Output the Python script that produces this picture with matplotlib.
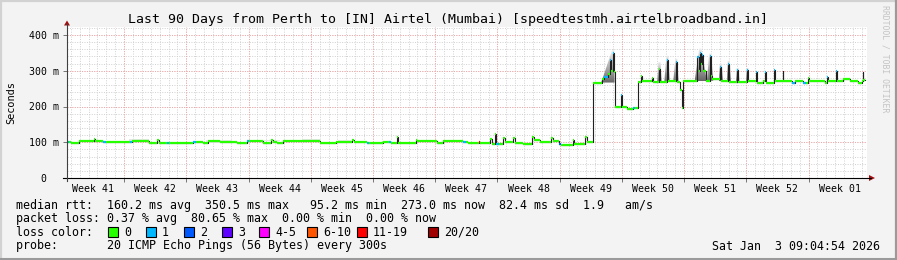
import numpy as np
import matplotlib
matplotlib.use('Agg')
import matplotlib.pyplot as plt
from matplotlib.colors import LinearSegmentedColormap
from matplotlib.patches import Polygon

plt.rcParams['font.family'] = ['DejaVu Sans Mono']

##########
## Data ##
##########
title = 'Last 90 Days from Perth to [IN] Airtel (Mumbai) [speedtestmh.airtelbroadband.in]'
week_labels = ['Week 41', 'Week 42', 'Week 43', 'Week 44', 'Week 45', 'Week 46', 'Week 47',
               'Week 48', 'Week 49', 'Week 50', 'Week 51', 'Week 52', 'Week 01']
first_week_line = 6.43   # days after the start of the graph
span_days = 90
y_ticks = [0, 100, 200, 300, 400]
y_tick_labels = ['0  ', '100 m', '200 m', '300 m', '400 m']

# median rtt (ms) as steps: value holds from med_t[i] to med_t[i+1]
med_t = [0.0, 0.2, 0.5, 1.3, 3.0, 3.2, 4.1, 4.4, 4.8, 7.1,
         7.3, 9.2, 10.1, 10.3, 11.2, 11.5, 12.7, 14.2, 14.5, 15.3,
         15.9, 17.2, 19.1, 20.2, 20.5, 22.1, 23.0, 23.2, 23.6, 24.3,
         26.6, 28.5, 30.3, 32.1, 32.3, 33.7, 34.0, 35.6, 36.2, 36.5,
         37.1, 37.2, 39.3, 39.4, 41.6, 42.3, 44.6, 44.9, 45.1, 46.3,
         46.5, 47.6, 47.8, 48.2, 48.3, 48.6, 49.1, 49.3, 50.2, 50.4,
         51.3, 52.3, 52.5, 53.2, 54.5, 54.7, 55.3, 55.6, 56.9, 57.0,
         58.3, 58.5, 59.2, 60.2, 60.4, 60.9, 61.1, 61.2, 61.4, 61.5,
         61.65, 62.3, 62.4, 63.0, 63.7, 63.9, 64.2, 64.6, 64.7, 65.8,
         65.9, 66.6, 66.7, 67.5, 67.6, 68.5, 68.6, 69.0, 69.2, 69.3,
         70.9, 71.1, 71.2, 71.3, 71.4, 71.5, 71.9, 72.3, 72.4, 72.6,
         73.5, 73.6, 74.4, 74.5, 75.4, 75.5, 76.5, 76.6, 77.5, 77.6,
         78.3, 78.5, 78.6, 79.5, 79.6, 80.5, 80.6, 81.6, 81.9, 82.8,
         83.1, 83.4, 83.5, 84.3, 85.3, 85.5, 85.6, 86.5, 86.6, 87.3,
         88.1, 89.0, 89.4, 89.5, 89.6]
med_v = [101, 101, 99, 104, 108, 103, 100, 100, 102, 101,
         104, 99, 106, 98, 99, 99, 98, 101, 101, 98,
         103, 102, 99, 104, 104, 99, 107, 100, 97, 103,
         104, 99, 102, 107, 101, 98, 98, 101, 100, 98,
         114, 99, 107, 103, 99, 104, 100, 100, 98, 101,
         97, 108, 96, 122, 95, 95, 111, 102, 111, 99,
         96, 116, 106, 102, 111, 104, 96, 93, 106, 95,
         116, 101, 267, 276, 283, 292, 330, 300, 350, 297,
         199, 232, 198, 194, 197, 196, 269, 285, 270, 280,
         268, 305, 269, 330, 270, 325, 268, 246, 195, 270,
         338, 300, 350, 320, 343, 300, 272, 340, 285, 276,
         311, 270, 318, 268, 302, 268, 302, 271, 297, 267,
         272, 297, 267, 302, 272, 299, 270, 267, 270, 267,
         267, 280, 270, 272, 267, 283, 270, 300, 272, 276,
         270, 266, 272, 297, 273]
med_loss = [1, 0, 0, 0, 0, 0, 1, 0, 0, 1,
            0, 0, 0, 0, 1, 0, 0, 1, 0, 0,
            0, 0, 0, 1, 0, 0, 0, 0, 0, 0,
            0, 0, 0, 0, 0, 1, 0, 0, 1, 0,
            0, 0, 0, 0, 0, 0, 1, 0, 0, 16,
            0, 0, 0, 0, 1, 0, 0, 0, 0, 0,
            0, 0, 0, 0, 0, 0, 2, 0, 0, 0,
            0, 0, 0, 0, 1, 0, 1, 0, 1, 0,
            0, 1, 0, 0, 1, 0, 0, 0, 0, 0,
            0, 0, 0, 1, 0, 1, 0, 0, 0, 0,
            1, 0, 1, 0, 1, 0, 0, 1, 0, 0,
            1, 0, 1, 0, 1, 0, 1, 0, 1, 0,
            0, 1, 0, 1, 0, 1, 0, 1, 0, 1,
            0, 0, 0, 0, 0, 1, 0, 1, 0, 0,
            0, 0, 0, 1, 0]
end_day = 89.8

# smoke (spread of the pings above the median)
smoke_t0 = [60.1, 66.4, 67.2, 68.2, 70.6, 72.0, 73.3, 74.2, 75.25, 76.35]
smoke_t1 = [61.6, 66.9, 67.8, 68.8, 72.0, 72.7, 73.8, 74.7, 75.65, 76.75]
smoke_top = [358, 324, 342, 334, 362, 348, 320, 328, 308, 308]
haze_t0 = [7.0, 15.6, 21.6, 26.4, 30.5]
haze_t1 = [9.2, 18.6, 24.0, 28.6, 32.0]
haze_top = [108, 107, 106, 108, 105]

loss_labels = ['0', '1', '2', '3', '4-5', '6-10', '11-19', '20/20']
loss_colors = ['#26ff00', '#00b8ff', '#0059ff', '#5e00ff', '#ff00ff', '#ff5500', '#ff0000', '#a00000']
loss_upper = [0, 1, 2, 3, 5, 10, 19, 20]

stats_rtt = 'median rtt:  160.2 ms avg  350.5 ms max   95.2 ms min  273.0 ms now  82.4 ms sd  1.9   am/s'
stats_loss = 'packet loss: 0.37 % avg  80.65 % max  0.00 % min  0.00 % now'
probe_text = 'probe:       20 ICMP Echo Pings (56 Bytes) every 300s'
stamp_text = 'Sat Jan  3 09:04:54 2026'

############
## Canvas ##
############
W, H = 897, 260
fig = plt.figure(figsize=(W / 100, H / 100), dpi=100, facecolor='#f3f3f3')

px_l, px_r, px_t, px_b = 67, 867, 27, 178
ax = fig.add_axes([px_l / W, 1 - px_b / H, (px_r - px_l) / W, (px_b - px_t) / H])
ax.set_facecolor('white')
y_top = (px_b - px_t) / 0.3575
ax.set_xlim(0, span_days)
ax.set_ylim(0, y_top)
for s in ax.spines.values():
    s.set_visible(False)

## Grid
minor_c = '#d0d0d0'
major_c = '#f4a4a4'
dots = (0, (1, 1.5))
days = np.arange(first_week_line % 1, span_days, 1.0)
ax.vlines(days, 0, y_top, colors=minor_c, lw=0.7, linestyles=dots, zorder=0)
ax.hlines(np.arange(20, y_top, 20), 0, span_days, colors=minor_c, lw=0.7, linestyles=dots, zorder=0)
week_lines = np.arange(first_week_line, span_days, 7.0)
ax.vlines(week_lines, 0, y_top, colors=major_c, lw=0.7, linestyles=dots, zorder=0.5)
ax.hlines(y_ticks[1:], 0, span_days, colors=major_c, lw=0.7, linestyles=dots, zorder=0.5)

## Ticks
week_centers = first_week_line - 3.5 + 7.0 * np.arange(len(week_labels))
ax.set_xticks(week_lines)
ax.set_xticklabels([])
ax.set_xticks(week_centers, minor=True)
ax.set_xticklabels(week_labels, minor=True, fontsize=7.1)
ax.tick_params(axis='x', which='major', length=3, width=0.6, color='#606060', direction='out')
ax.tick_params(axis='x', which='minor', length=0, pad=4)
ax.set_yticks(y_ticks)
ax.set_yticklabels(y_tick_labels, fontsize=7.1)
ax.tick_params(axis='y', length=3, width=0.6, color='#606060', pad=2.5)

## Smoke
t_arr = np.array(med_t)
v_arr = np.array(med_v)

def median_at(t):
    i = max(np.searchsorted(t_arr, t, side='right') - 1, 0)
    return v_arr[i]

for t0, t1, top in zip(haze_t0, haze_t1, haze_top):
    ax.fill_between([t0, t1], [median_at(t0)] * 2, [top] * 2, color='#e6e6e6', lw=0, zorder=1)

smoke_cmap = LinearSegmentedColormap.from_list('smoke', ['#686868', '#b0b0b0', '#f0f0f0'])
grad = np.linspace(0, 1, 64).reshape(-1, 1)
for t0, t1, top in zip(smoke_t0, smoke_t1, smoke_top):
    sel = (t_arr >= t0) & (t_arr <= t1)
    base = min([median_at(t0)] + list(v_arr[sel]))
    tp = t_arr[sel][np.argmax(v_arr[sel])] + 0.05 if sel.any() else (t0 + t1) / 2
    im = ax.imshow(grad, extent=[t0, t1, base, top], origin='lower', cmap=smoke_cmap,
                   aspect='auto', interpolation='bilinear', zorder=1.5)
    clip = Polygon([[t0, base], [tp - 0.12, top], [tp + 0.12, top], [t1, base]],
                   closed=True, transform=ax.transData)
    im.set_clip_path(clip)
ax.set_xlim(0, span_days)
ax.set_ylim(0, y_top)

## Median
t_next = np.append(t_arr[1:], end_day)
ax.step(np.append(t_arr, end_day), np.append(v_arr, v_arr[-1]), where='post',
        color='#202020', lw=0.8, zorder=3)
seg_colors = [loss_colors[np.searchsorted(loss_upper, l)] for l in med_loss]
ax.hlines(v_arr, t_arr, t_next, colors=seg_colors, lw=1.6, zorder=4)

#############
## Overlay ##
#############
ov = fig.add_axes([0, 0, 1, 1], zorder=5)
ov.set_xlim(0, W)
ov.set_ylim(H, 0)
ov.axis('off')
ov.patch.set_visible(False)

# frame
ov.plot([0.5, W - 0.5], [0.8, 0.8], color='#d2d2d2', lw=1.6)
ov.plot([0.8, 0.8], [0, H], color='#d2d2d2', lw=1.6)
ov.plot([0, W], [H - 1.2, H - 1.2], color='#9a9a9a', lw=2.2)
ov.plot([W - 1.0, W - 1.0], [0, H], color='#9a9a9a', lw=1.6)

# axes with arrows
ov.plot([63, 871], [px_b, px_b], color='black', lw=0.8)
ov.plot([px_l, px_l], [px_b + 3, 24], color='#404040', lw=0.8)
ov.fill([64, 70, 67], [25.5, 25.5, 20.5], color='#a01010', lw=0)
ov.fill([869, 869, 875], [175, 181, 178], color='#a01010', lw=0)

ov.text(W / 2, 19, title, ha='center', va='center', fontsize=9.55)
ov.text(11, (px_t + px_b) / 2, 'Seconds', rotation=90, ha='center', va='center', fontsize=7.4)
ov.text(884.5, 59, 'RRDTOOL / TOBI OETIKER', rotation=270, ha='center', va='center',
        fontsize=5.9, color='#c4c4c4')

leg_fs = 8.4
ov.text(16, 205, stats_rtt, ha='left', va='center', fontsize=leg_fs)
ov.text(16, 218.5, stats_loss, ha='left', va='center', fontsize=leg_fs)
ov.text(16, 232, 'loss color:', ha='left', va='center', fontsize=leg_fs)
box_x = [108, 146, 184, 222, 259, 307, 357, 428]
for bx, lab, col in zip(box_x, loss_labels, loss_colors):
    ov.add_patch(plt.Rectangle((bx, 227), 10, 10, facecolor=col, edgecolor='black', lw=0.8))
    ov.text(bx + 16, 232, lab, ha='left', va='center', fontsize=leg_fs)
ov.text(16, 246, probe_text, ha='left', va='center', fontsize=leg_fs)
ov.text(880, 246, stamp_text, ha='right', va='center', fontsize=leg_fs)

fig.savefig('out.png', dpi=100, facecolor=fig.get_facecolor())
